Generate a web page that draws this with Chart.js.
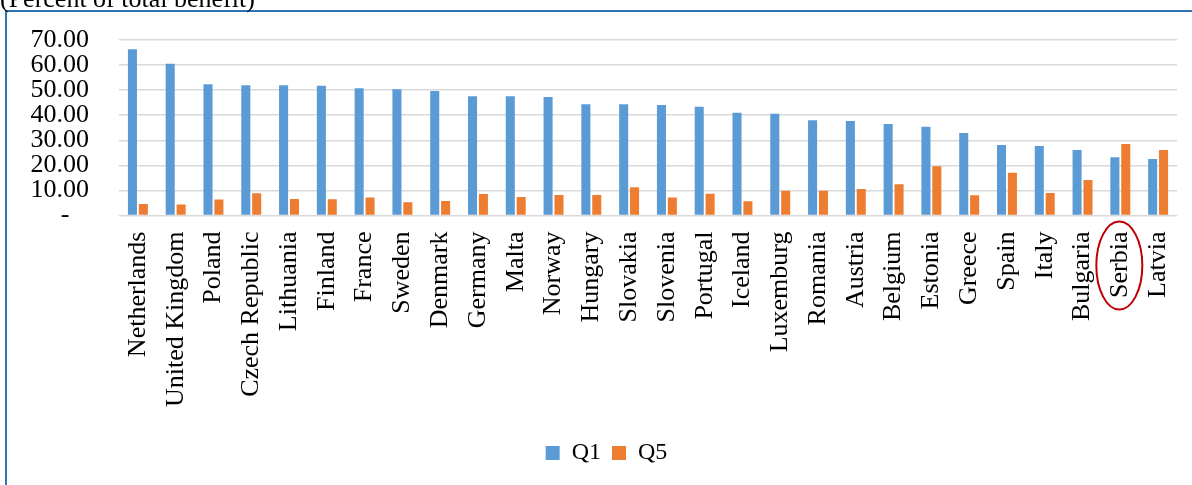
<!DOCTYPE html>
<html>
<head>
<meta charset="utf-8">
<script src="https://cdn.jsdelivr.net/npm/chart.js@4.4.1/dist/chart.umd.min.js"></script>
<style>
  html, body { margin: 0; padding: 0; background: #fff; }
  #wrap { position: relative; width: 1192px; height: 485px; overflow: hidden; }
  canvas { display: block; }
</style>
</head>
<body>
<div id="wrap"><canvas id="c" width="1192" height="485"></canvas></div>
<script>
// Share of total benefit received by the poorest (Q1) and richest (Q5) quintile
const countries = ['Netherlands', 'United Kingdom', 'Poland', 'Czech Republic', 'Lithuania', 'Finland',
  'France', 'Sweden', 'Denmark', 'Germany', 'Malta', 'Norway', 'Hungary', 'Slovakia', 'Slovenia',
  'Portugal', 'Iceland', 'Luxemburg', 'Romania', 'Austria', 'Belgium', 'Estonia', 'Greece', 'Spain',
  'Italy', 'Bulgaria', 'Serbia', 'Latvia'];
const q1Values = [66.3, 60.5, 52.4, 52.0, 52.0, 51.8, 50.8, 50.4, 49.7, 47.6, 47.6, 47.3, 44.4, 44.4,
  44.1, 43.4, 41.0, 40.6, 38.0, 37.7, 36.5, 35.4, 32.9, 28.1, 27.7, 26.1, 23.2, 22.5];
const q5Values = [4.6, 4.4, 6.4, 8.9, 6.6, 6.5, 7.2, 5.3, 5.8, 8.6, 7.4, 8.2, 8.2, 11.3,
  7.2, 8.7, 5.7, 9.9, 9.9, 10.6, 12.5, 19.6, 8.1, 17.1, 9.0, 14.2, 28.5, 26.1];
const seriesNames = ['Q1', 'Q5'];
const yMin = 0, yMax = 70, yStep = 10;
const unitLabel = '(Percent of total benefit)';
const highlighted = 'Serbia';

const FONT = '"Liberation Serif", "Times New Roman", serif';

// Outer frame and the unit caption above it
const framePlugin = {
  id: 'frame',
  beforeDraw(chart) {
    const ctx = chart.ctx;
    ctx.save();
    ctx.fillStyle = '#fff';
    ctx.fillRect(0, 0, chart.width, chart.height);
    ctx.strokeStyle = '#2F75B5';
    ctx.lineWidth = 2;
    ctx.beginPath();
    ctx.moveTo(6, chart.height + 2);
    ctx.lineTo(6, 11);
    ctx.lineTo(chart.width + 2, 11);
    ctx.stroke();
    ctx.fillStyle = '#000';
    ctx.font = '26px ' + FONT;
    ctx.textBaseline = 'alphabetic';
    ctx.textAlign = 'left';
    ctx.fillText(unitLabel, 0, 7);
    ctx.restore();
  }
};

// Nudge the legend row a little right of the canvas centre
const legendShift = {
  id: 'legendShift',
  afterLayout(chart) {
    const lg = chart.legend;
    if (!lg) return;
    lg.left += 18;
    lg.right += 18;
  }
};

// Red ring around one country's axis label
const ringPlugin = {
  id: 'ring',
  afterDraw(chart) {
    const xs = chart.scales.x;
    const idx = countries.indexOf(highlighted);
    if (idx < 0) return;
    const ctx = chart.ctx;
    const cx = xs.getPixelForValue(idx) - 1;
    const cy = xs.top + 50;
    ctx.save();
    ctx.strokeStyle = '#C00000';
    ctx.lineWidth = 2;
    ctx.beginPath();
    ctx.ellipse(cx, cy, 23, 44, 0, 0, Math.PI * 2);
    ctx.stroke();
    ctx.restore();
  }
};

function draw() {
  new Chart(document.getElementById('c'), {
    type: 'bar',
    data: {
      labels: countries,
      datasets: [
        { label: seriesNames[0], data: q1Values, backgroundColor: '#5B9BD5', borderWidth: 0 },
        { label: seriesNames[1], data: q5Values, backgroundColor: '#ED7D31', borderWidth: 0 }
      ]
    },
    options: {
      responsive: false,
      animation: false,
      devicePixelRatio: 1,
      datasets: { bar: { categoryPercentage: 0.577, barPercentage: 0.83 } },
      layout: { padding: { left: 0, top: 40, right: 15, bottom: 10 } },
      plugins: {
        legend: {
          position: 'bottom',
          labels: {
            font: { family: FONT, size: 24 },
            color: '#000',
            boxWidth: 14,
            boxHeight: 14,
            padding: 11
          }
        },
        tooltip: { enabled: false }
      },
      scales: {
        y: {
          min: yMin,
          max: yMax,
          afterFit(scale) {
            scale.width = 119;
            scale.paddingTop = 0;
            scale.paddingBottom = 0;
          },
          ticks: {
            stepSize: yStep,
            autoSkip: false,
            padding: 30,
            color: '#000',
            font: { family: FONT, size: 26 },
            callback: v => v === 0 ? '-\u2007 ' : v.toFixed(2)
          },
          grid: { color: '#D9D9D9', lineWidth: 1.5, drawTicks: false },
          border: { display: false }
        },
        x: {
          afterFit(scale) {
            scale.height += 7;
            scale.paddingLeft = 0;
            scale.paddingRight = 0;
          },
          ticks: {
            minRotation: 90,
            maxRotation: 90,
            autoSkip: false,
            padding: 16,
            color: '#000',
            font: { family: FONT, size: 26 }
          },
          grid: { display: false, drawTicks: false },
          border: { display: false }
        }
      }
    },
    plugins: [framePlugin, legendShift, ringPlugin]
  });
}

if (document.fonts && document.fonts.load) {
  Promise.all([
    document.fonts.load('26px "Liberation Serif"'),
    document.fonts.load('24px "Liberation Serif"')
  ]).then(draw, draw);
} else {
  draw();
}
</script>
</body>
</html>
